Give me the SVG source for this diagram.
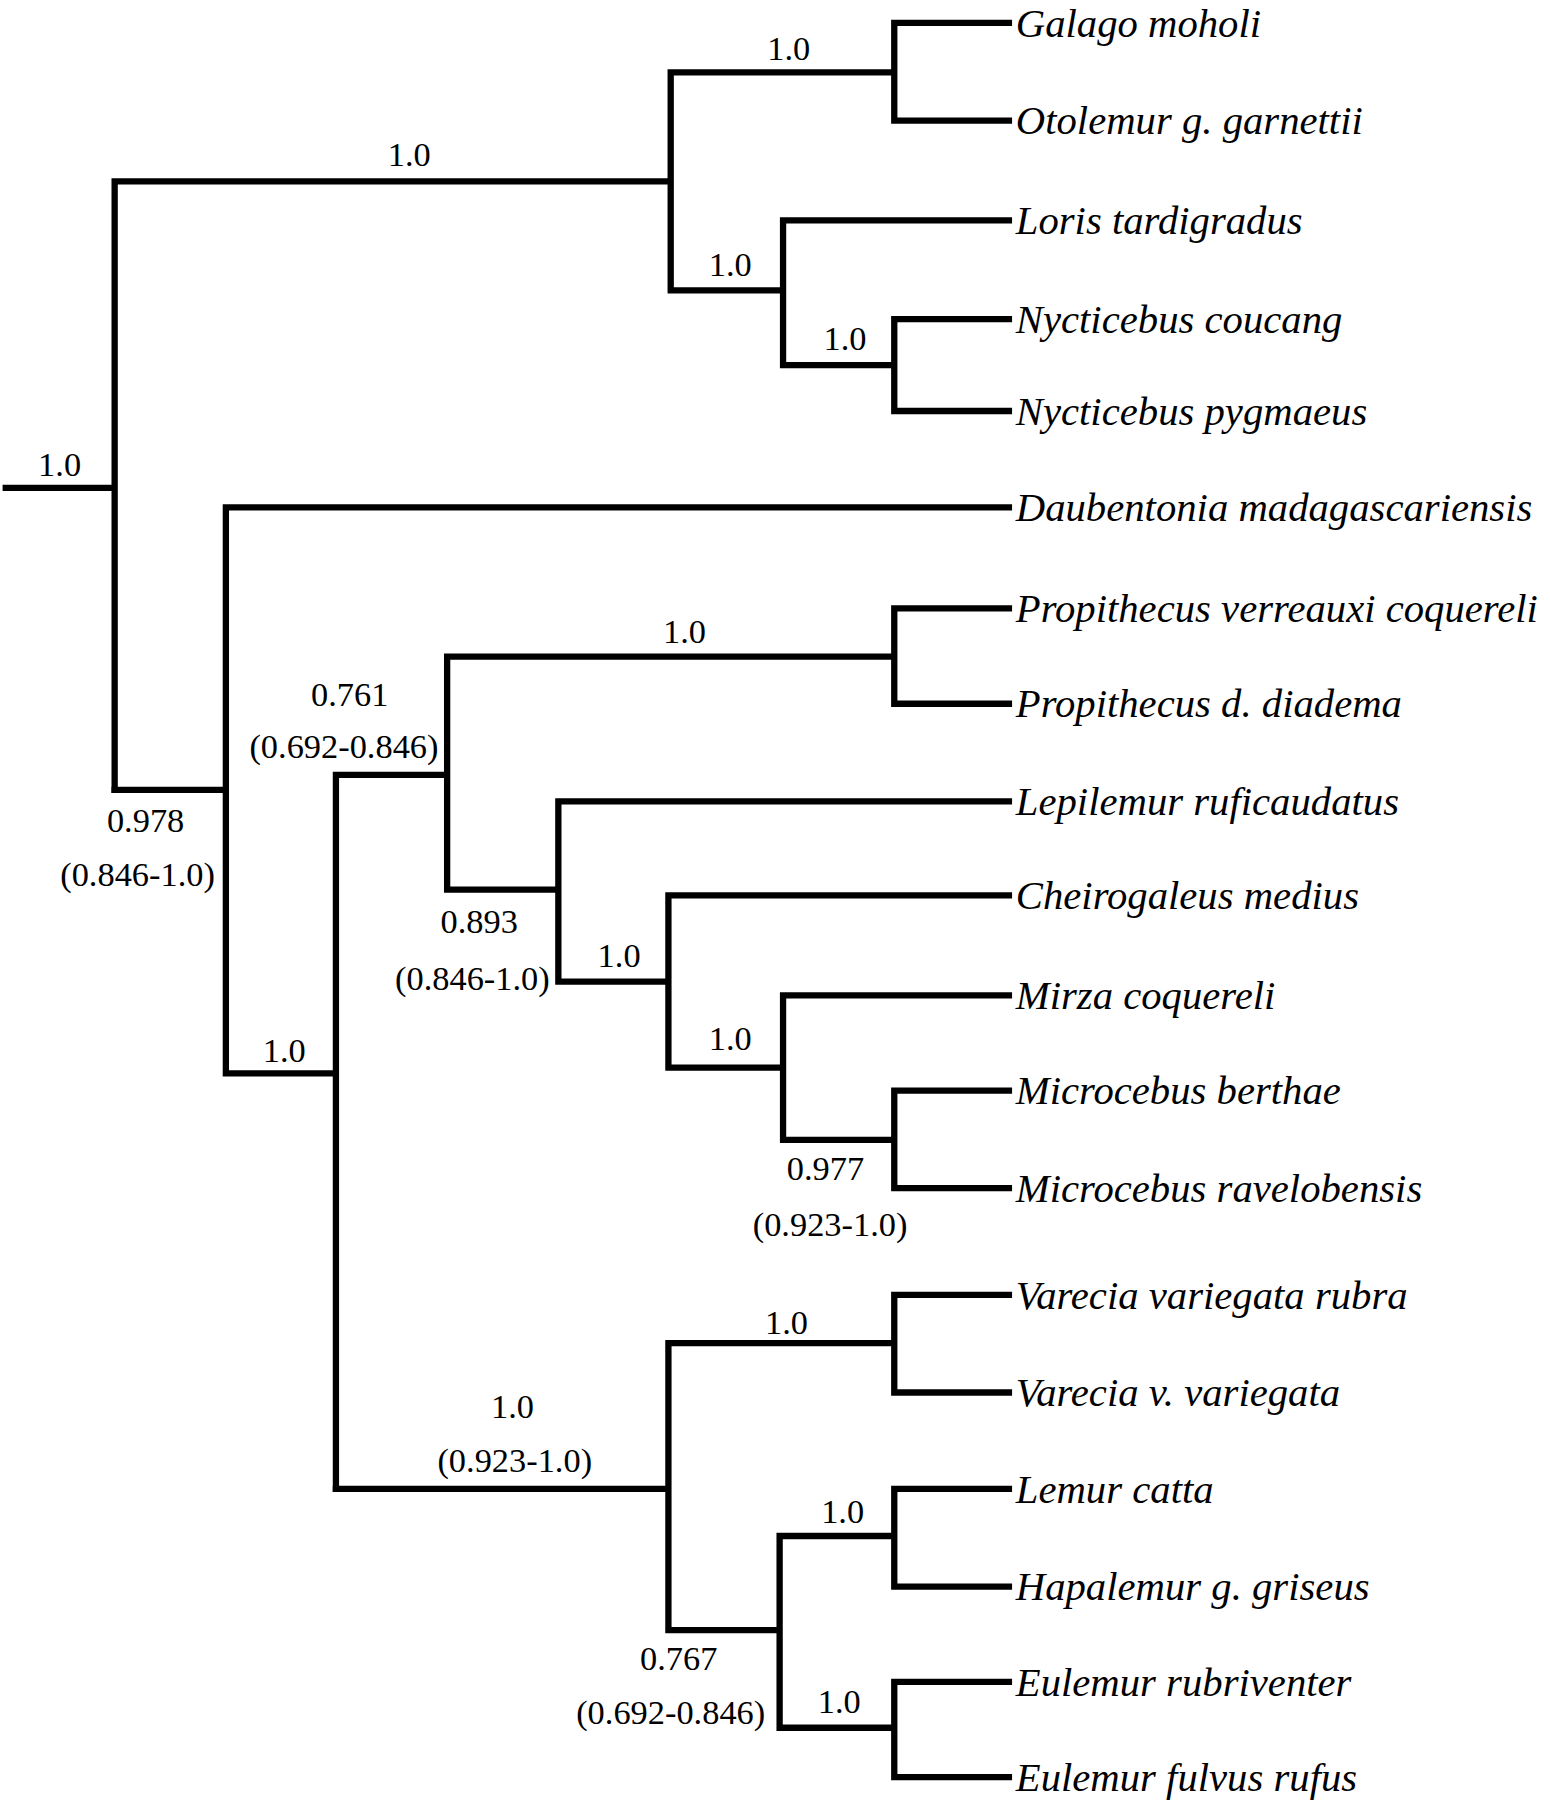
<svg xmlns="http://www.w3.org/2000/svg" width="1550" height="1800" viewBox="0 0 1550 1800">
<style>
.e{stroke:#000;stroke-width:5.5;fill:none;stroke-linecap:square}
.t{font-family:"Liberation Serif",serif;font-style:italic;font-size:35.5px;fill:#000}
.n{font-family:"Liberation Serif",serif;font-size:30px;fill:#000;text-anchor:middle}
</style>
<rect width="1550" height="1800" fill="#fff"/>
<g transform="scale(1.1465,1.148)">
<g id="connectors">
<path class="e" d="M5,425H100M100,158V688M100,158H585M585,63V253M585,63H780M780,20V105M780,20H880M780,105H880M585,253H683M683,192V318M683,192H880M683,318H780M780,278V358M780,278H880M780,358H880"/>
<path class="e" d="M100,688H197M197,442V935M197,442H880M197,935H293M293,675V1297M293,675H390M390,572V775M390,572H780M780,530V613M780,530H880M780,613H880M390,775H487M487,698V855M487,698H880M487,855H583M583,780V930M583,780H880M583,930H683M683,867V993M683,867H880M683,993H780M780,950V1035M780,950H880M780,1035H880"/>
<path class="e" d="M293,1297H583M583,1170V1420M583,1170H780M780,1128V1213M780,1128H880M780,1213H880M583,1420H680M680,1338V1505M680,1338H780M780,1297V1382M780,1297H880M780,1382H880M680,1505H780M780,1465V1548M780,1465H880M780,1548H880"/>
</g>
<g id="tips">
<text class="t" x="886" y="32">Galago moholi</text>
<text class="t" x="886" y="117">Otolemur g. garnettii</text>
<text class="t" x="886" y="204">Loris tardigradus</text>
<text class="t" x="886" y="290">Nycticebus coucang</text>
<text class="t" x="886" y="370">Nycticebus pygmaeus</text>
<text class="t" x="886" y="454">Daubentonia madagascariensis</text>
<text class="t" x="886" y="542">Propithecus verreauxi coquereli</text>
<text class="t" x="886" y="625">Propithecus d. diadema</text>
<text class="t" x="886" y="710">Lepilemur ruficaudatus</text>
<text class="t" x="886" y="792">Cheirogaleus medius</text>
<text class="t" x="886" y="879">Mirza coquereli</text>
<text class="t" x="886" y="962">Microcebus berthae</text>
<text class="t" x="886" y="1047">Microcebus ravelobensis</text>
<text class="t" x="886" y="1140">Varecia variegata rubra</text>
<text class="t" x="886" y="1225">Varecia v. variegata</text>
<text class="t" x="886" y="1309">Lemur catta</text>
<text class="t" x="886" y="1394">Hapalemur g. griseus</text>
<text class="t" x="886" y="1477">Eulemur rubriventer</text>
<text class="t" x="886" y="1560">Eulemur fulvus rufus</text>
</g>
<g id="labels">
<text class="n" x="52" y="415">1.0</text>
<text class="n" x="357" y="145">1.0</text>
<text class="n" x="688" y="52">1.0</text>
<text class="n" x="637" y="240">1.0</text>
<text class="n" x="737" y="305">1.0</text>
<text class="n" x="127" y="725">0.978</text>
<text class="n" x="120" y="772">(0.846-1.0)</text>
<text class="n" x="248" y="925">1.0</text>
<text class="n" x="305" y="615">0.761</text>
<text class="n" x="300" y="660">(0.692-0.846)</text>
<text class="n" x="597" y="560">1.0</text>
<text class="n" x="418" y="813">0.893</text>
<text class="n" x="412" y="862">(0.846-1.0)</text>
<text class="n" x="540" y="842">1.0</text>
<text class="n" x="637" y="915">1.0</text>
<text class="n" x="720" y="1028">0.977</text>
<text class="n" x="724" y="1077">(0.923-1.0)</text>
<text class="n" x="447" y="1235">1.0</text>
<text class="n" x="449" y="1282">(0.923-1.0)</text>
<text class="n" x="686" y="1162">1.0</text>
<text class="n" x="592" y="1455">0.767</text>
<text class="n" x="585" y="1502">(0.692-0.846)</text>
<text class="n" x="735" y="1327">1.0</text>
<text class="n" x="732" y="1492">1.0</text>
</g>
</g>
</svg>
